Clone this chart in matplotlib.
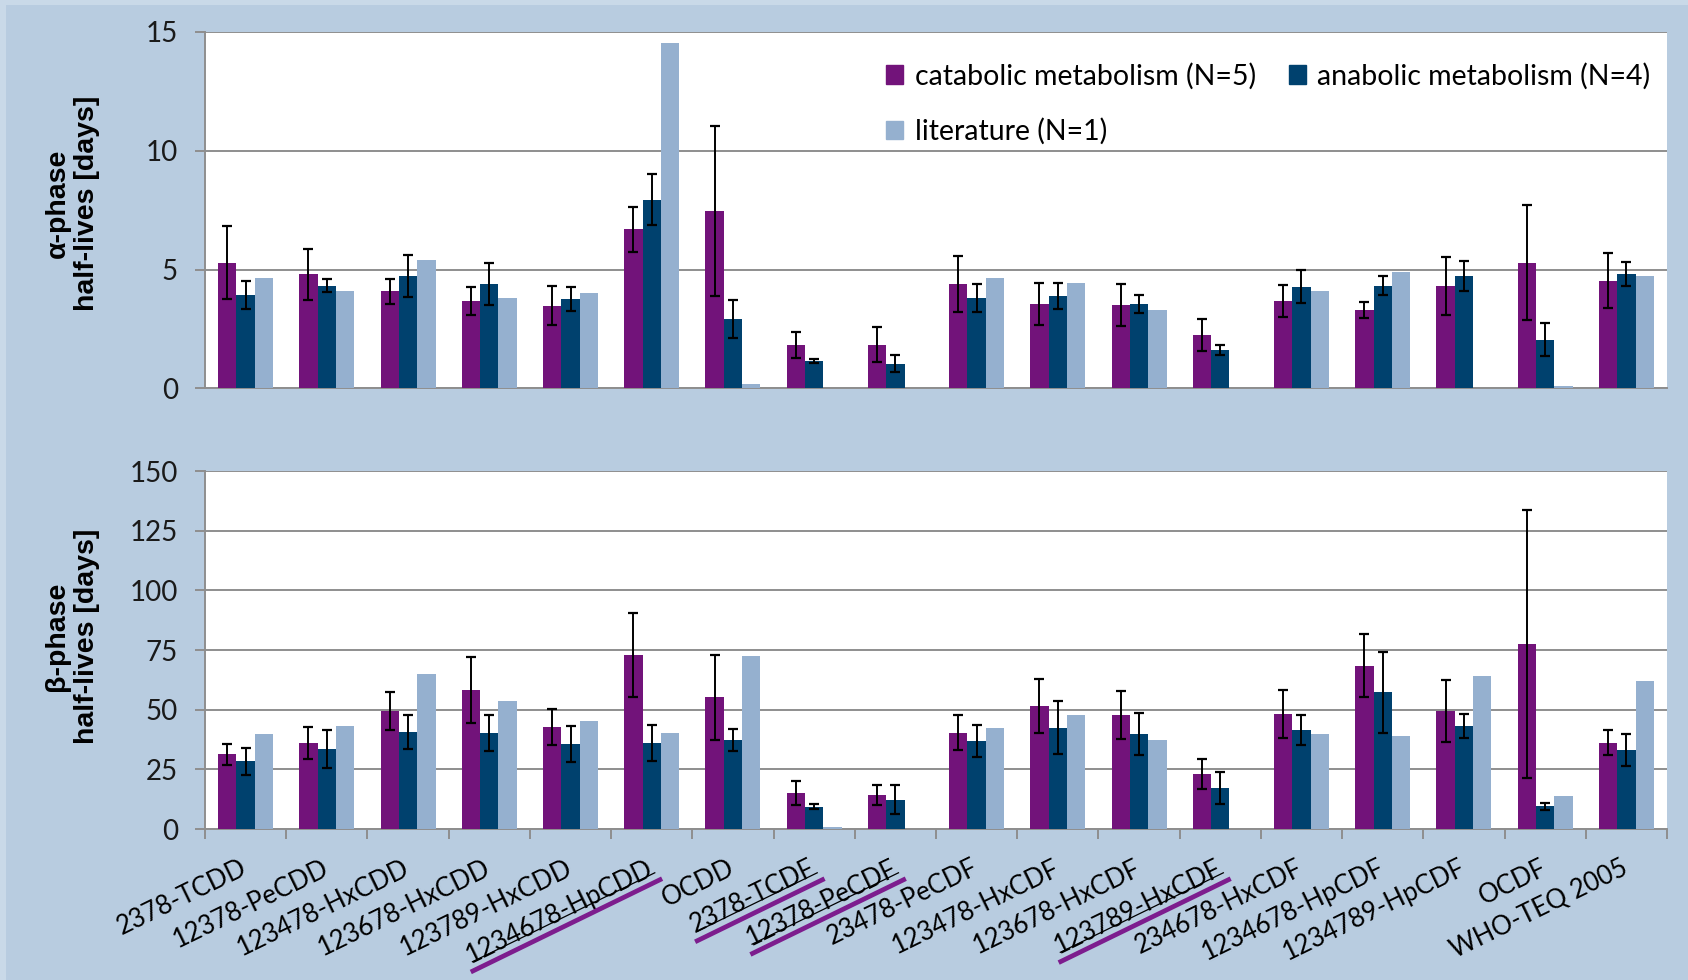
import numpy as np
import matplotlib
matplotlib.use("Agg")
import matplotlib.pyplot as plt
from matplotlib.lines import Line2D
from matplotlib.patches import Rectangle, Patch
from matplotlib.ticker import FixedLocator

categories = ["2378-TCDD", "12378-PeCDD", "123478-HxCDD", "123678-HxCDD",
              "123789-HxCDD", "1234678-HpCDD", "OCDD", "2378-TCDF",
              "12378-PeCDF", "23478-PeCDF", "123478-HxCDF", "123678-HxCDF",
              "123789-HxCDF", "234678-HxCDF", "1234678-HpCDF", "1234789-HpCDF",
              "OCDF", "WHO-TEQ 2005"]
underlined = ["1234678-HpCDD", "2378-TCDF", "12378-PeCDF", "123789-HxCDF"]

series_names = ["catabolic metabolism (N=5)", "anabolic metabolism (N=4)",
                "literature (N=1)"]

# alpha-phase half-lives [days]
alpha_cat = [5.30, 4.81, 4.09, 3.67, 3.49, 6.70, 7.46, 1.82, 1.85, 4.39, 3.57,
             3.50, 2.24, 3.69, 3.32, 4.32, 5.30, 4.53]
alpha_cat_err = [1.53, 1.08, 0.52, 0.59, 0.83, 0.95, 3.58, 0.55, 0.72, 1.17,
                 0.88, 0.89, 0.67, 0.68, 0.34, 1.21, 2.41, 1.16]
alpha_ana = [3.93, 4.32, 4.74, 4.40, 3.77, 7.95, 2.94, 1.16, 1.05, 3.81, 3.88,
             3.55, 1.61, 4.28, 4.32, 4.74, 2.06, 4.81]
alpha_ana_err = [0.59, 0.27, 0.88, 0.87, 0.52, 1.08, 0.80, 0.09, 0.34, 0.59,
                 0.55, 0.39, 0.21, 0.69, 0.40, 0.63, 0.69, 0.51]
alpha_lit = [4.63, 4.11, 5.41, 3.81, 4.00, 14.54, 0.18, np.nan, np.nan, 4.65,
             4.42, 3.32, np.nan, 4.11, 4.91, np.nan, 0.10, 4.72]

# beta-phase half-lives [days]
beta_cat = [31.3, 36.0, 49.5, 58.2, 42.8, 72.9, 55.1, 15.1, 14.4, 40.4, 51.6,
            47.7, 22.9, 48.1, 68.4, 49.5, 77.5, 36.2]
beta_cat_err = [4.3, 6.7, 7.9, 13.8, 7.5, 17.8, 17.7, 5.1, 4.2, 7.5, 11.2,
                10.0, 6.3, 10.0, 13.2, 12.9, 56.2, 5.4]
beta_ana = [28.3, 33.6, 40.7, 40.2, 35.7, 36.2, 37.4, 9.4, 12.3, 36.7, 42.5,
            40.0, 17.2, 41.6, 57.2, 43.0, 9.5, 33.2]
beta_ana_err = [5.5, 8.0, 7.2, 7.5, 7.5, 7.5, 4.6, 1.2, 6.2, 6.7, 11.2, 8.8,
                6.7, 6.2, 17.0, 5.0, 1.6, 6.7]
beta_lit = [40.0, 43.2, 64.8, 53.6, 45.3, 40.4, 72.5, 0.7, np.nan, 42.3, 47.7,
            37.4, np.nan, 40.0, 39.0, 64.1, 13.7, 62.1]

alpha_ticks = [0, 5, 10, 15]
beta_ticks = [0, 25, 50, 75, 100, 125, 150]

colors = ["#72137a", "#00416e", "#95b0cf"]
bg = "#b8cce0"
frame_light = "#c9d9e8"
grid_c = "#8e8e8e"

tick_font = ["Lato", "DejaVu Sans"]
label_font = ["Liberation Sans", "DejaVu Sans"]

W, H = 1688, 980
fig = plt.figure(figsize=(W / 100, H / 100), dpi=100, facecolor=bg)

# lighter outer frame strips
fig.add_artist(Rectangle((0, 1 - 5 / H), 1, 5 / H, transform=fig.transFigure,
                         color=frame_light, lw=0, zorder=0))
fig.add_artist(Rectangle((0, 0), 6 / W, 1, transform=fig.transFigure,
                         color=frame_light, lw=0, zorder=0))

left, right = 205 / W, 1667 / W
ax1 = fig.add_axes([left, 1 - 388.5 / H, right - left, (388.5 - 32) / H])
ax2 = fig.add_axes([left, 1 - 829 / H, right - left, (829 - 471) / H])

x = np.arange(len(categories))
bw = 0.226
offsets = [-bw, 0.0, bw]


def draw_panel(ax, vals, errs, ymax, ticks):
    ax.set_facecolor("white")
    for i, (v, col) in enumerate(zip(vals, colors)):
        ax.bar(x + offsets[i], v, width=bw, color=col, zorder=3, lw=0)
        if errs[i] is not None:
            ax.errorbar(x + offsets[i], v, yerr=errs[i], fmt="none",
                        ecolor="black", elinewidth=1.4, capsize=3.3,
                        capthick=1.6, zorder=4)
    ax.set_xlim(-0.5, len(categories) - 0.5)
    ax.set_ylim(0, ymax)
    ax.set_yticks(ticks)
    ax.yaxis.grid(True, color=grid_c, lw=1.4, zorder=1)
    ax.set_axisbelow(True)
    for s in ("top", "right"):
        ax.spines[s].set_visible(False)
    for s in ("left", "bottom"):
        ax.spines[s].set_color(grid_c)
        ax.spines[s].set_linewidth(1.4)
    ax.tick_params(axis="y", direction="out", length=7.5, width=1.4,
                   color=grid_c, pad=12, labelsize=20)
    for lab in ax.get_yticklabels():
        lab.set_fontfamily(tick_font)
        lab.set_color("#1a1a1a")


draw_panel(ax1, [alpha_cat, alpha_ana, alpha_lit],
           [alpha_cat_err, alpha_ana_err, None], 15, alpha_ticks)
draw_panel(ax2, [beta_cat, beta_ana, beta_lit],
           [beta_cat_err, beta_ana_err, None], 150, beta_ticks)

ax1.tick_params(axis="x", length=0, labelbottom=False)

ROT = 26
ax2.xaxis.set_major_locator(FixedLocator(x))
ax2.set_xticklabels(categories, rotation=ROT, ha="right", va="center",
                    rotation_mode="anchor", fontsize=18.5, fontfamily=tick_font)
ax2.tick_params(axis="x", which="major", length=0, pad=27)
ax2.xaxis.set_minor_locator(FixedLocator(np.arange(-0.5, len(categories), 1.0)))
ax2.tick_params(axis="x", which="minor", direction="out", length=7.5,
                width=1.4, color=grid_c)

# y-axis titles
fig.text(72 / W, 1 - 203 / H, "\u03b1-phase\nhalf-lives [days]", rotation=90,
         ha="center", va="center", fontsize=20.5, fontweight="bold",
         fontfamily=label_font, linespacing=1.15)
fig.text(72 / W, 1 - 636 / H, "\u03b2-phase\nhalf-lives [days]", rotation=90,
         ha="center", va="center", fontsize=20.5, fontweight="bold",
         fontfamily=label_font, linespacing=1.15)

# legend: row 1 catabolic / anabolic, row 2 literature
handles = [Patch(color=c) for c in colors]
leg = ax1.legend([handles[0], handles[2], handles[1]],
                 [series_names[0], series_names[2], series_names[1]],
                 ncol=2, loc="upper left", bbox_to_anchor=(0.466, 0.914),
                 frameon=False, borderpad=0, borderaxespad=0,
                 handlelength=0.6, handleheight=0.6, handletextpad=0.4,
                 columnspacing=1.15, labelspacing=1.0,
                 prop={"family": tick_font, "size": 20.5})

# underline selected congener labels
fig.canvas.draw()
renderer = fig.canvas.get_renderer()
th = np.deg2rad(ROT)
c, s = np.cos(th), np.sin(th)
u = np.array([c, s])
n = np.array([s, -c])
inv = fig.transFigure.inverted()
for lab in ax2.get_xticklabels():
    if lab.get_text() not in underlined:
        continue
    bb = lab.get_window_extent(renderer)
    Wb, Hb = bb.width, bb.height
    w = (Wb * c - Hb * s) / (c * c - s * s)
    h = (Hb * c - Wb * s) / (c * c - s * s)
    bl = np.array([bb.x0 + h * s, bb.y0])
    br = np.array([bb.x1, bb.y0 + w * s])
    # thin black underline just under the glyphs
    p0 = bl - n * (0.22 * h) + u * 2
    p1 = br - n * (0.22 * h)
    pts = inv.transform(np.array([p0, p1]))
    fig.add_artist(Line2D(pts[:, 0], pts[:, 1], transform=fig.transFigure,
                          color="black", lw=0.9, zorder=5))
    # thick purple stroke below
    q0 = bl + n * 3 - u * 4
    q1 = br + n * 3 + u * 4
    pts = inv.transform(np.array([q0, q1]))
    fig.add_artist(Line2D(pts[:, 0], pts[:, 1], transform=fig.transFigure,
                          color="#7d1d8e", lw=3.4, solid_capstyle="butt",
                          zorder=5))

fig.savefig("out.png", dpi=100, facecolor=bg)
